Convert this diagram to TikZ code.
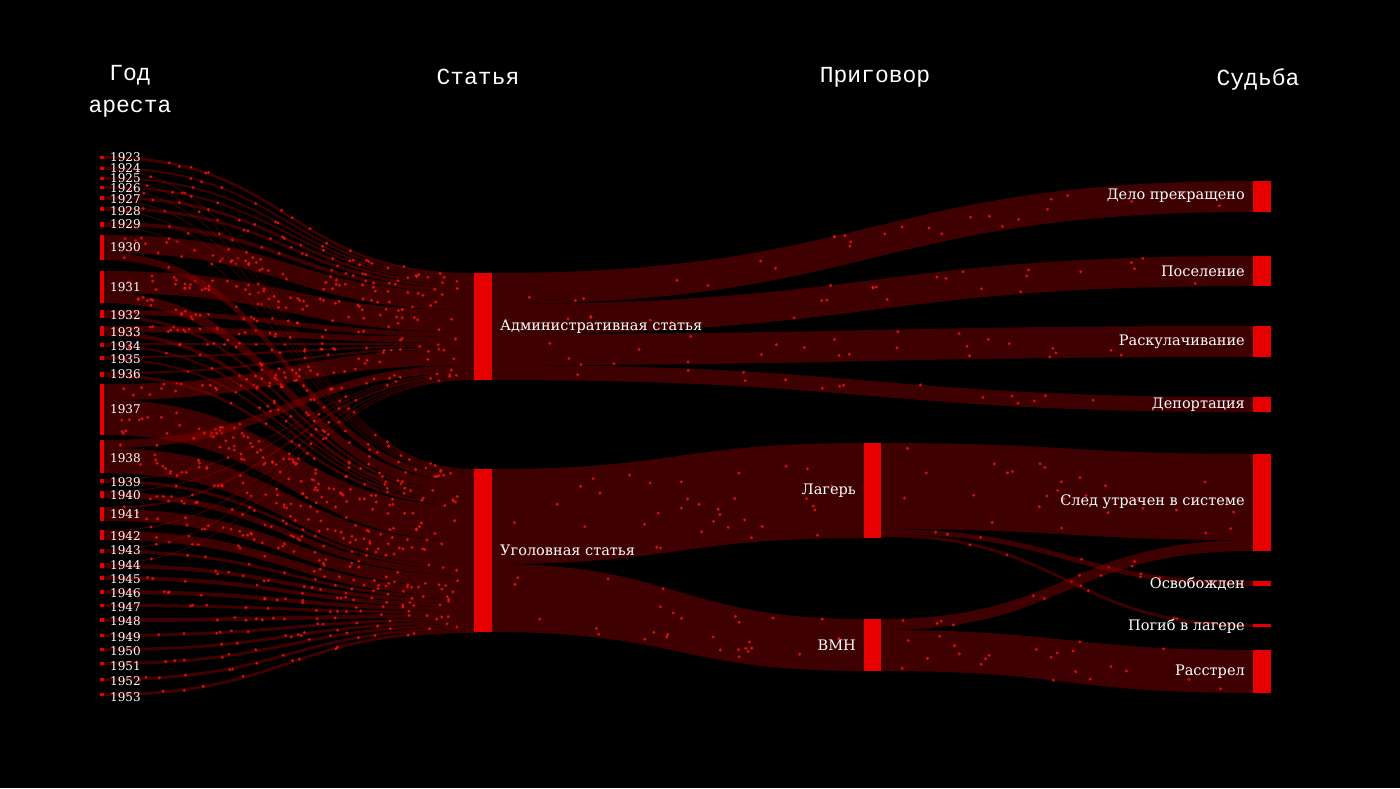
\documentclass[tikz,border=0pt]{standalone}
\usepackage{fontspec}
\setmainfont{DejaVu Serif}
\newfontfamily\hdr{Liberation Mono}
\begin{document}
\begin{tikzpicture}[x=1pt,y=-1pt,
  band/.style={fill={rgb,255:red,150;green,0;blue,0},fill opacity=0.42},
  dot/.style={circle,fill={rgb,255:red,235;green,20;blue,20},inner sep=0pt,minimum size=3.3pt,opacity=0.85},
  nd/.style={fill={rgb,255:red,230;green,0;blue,0},draw=none,inner sep=0pt,rectangle,anchor=north west},
  lab/.style={text=white,font=\fontsize{14.5}{14.5}\selectfont,inner sep=0pt},
  ylab/.style={text=white,font=\fontsize{12}{12}\selectfont,inner sep=0pt,anchor=west},
  hd/.style={text=white,font=\hdr\fontsize{23}{32}\selectfont,align=center}]
\fill[black] (0,0) rectangle (1400,788);
\useasboundingbox (0,0) rectangle (1400,788);
\pgfmathsetseed{7}
\newcommand\myband[6]{%
 \fill[band] ({#1},{#2}) .. controls ({(#1+#3)/2},{#2}) and ({(#1+#3)/2},{#4}) .. ({#3},{#4})
  -- ({#3},{#4+#6}) .. controls ({(#1+#3)/2},{#4+#6}) and ({(#1+#3)/2},{#2+#5}) .. ({#1},{#2+#5}) -- cycle;}
\newcommand\mydots[7]{%
 \pgfmathtruncatemacro\nn{#7}%
 \ifnum\nn>0
 \foreach \k in {1,...,\nn}{%
  \pgfmathsetmacro\ff{rnd}\pgfmathsetmacro\pp{0.03+0.94*rnd}%
  \path ({#1},{#2+\ff*#5}) .. controls ({(#1+#3)/2},{#2+\ff*#5}) and ({(#1+#3)/2},{#4+\ff*#6}) .. ({#3},{#4+\ff*#6}) node[dot,pos=\pp]{};}%
 \fi}
% headers
\node[hd] (h1) at (130,91) {Год\\ареста};
\node[hd] (h2) at (478,77) {Статья};
\node[hd] (h3) at (875,77) {Приговор};
\node[hd] (h4) at (1258,79) {Судьба};
% years
\xdef\accA{273}\xdef\accC{469}
\foreach \yr/\t/\h/\a/\c/\ly in {1923/156/3/3/0/157,1924/167/3/2/1/168,1925/177/3/2/1/178,1926/186/3/2/1/188,1927/196/4/3/1/199,1928/207/4/3/1/211,1929/222/5/4/1/224,1930/235/25/18/7/247,1931/271/32/22/10/287,1932/310/8/5/3/315,1933/326/10/6/4/332,1934/343/4/2/2/346,1935/356/4/2/2/359,1936/372/5/2/3/374,1937/384/51/16/35/409,1938/440/33/8/25/458,1939/479/4/1/3/482,1940/491/7/1/6/495,1941/507/14/2/12/514,1942/530/10/1/9/536,1943/549/4/1/3/550,1944/563/5/1/4/565,1945/576/4/0/4/579,1946/590/4/0/4/593,1947/604/3/0/3/607,1948/618/4/0/4/621,1949/634/3/0/3/637,1950/648/3/0/3/651,1951/662/3/0/3/666,1952/678/3/0/3/681,1953/693/3/0/3/697}{
  \pgfmathsetmacro\tc{\t+\a}
  \ifnum\a>0 \myband{104}{\t}{474}{\accA}{\a}{\a}\mydots{104}{\t}{474}{\accA}{\a}{\a}{4+2.5*\a}\fi
  \ifnum\c>0 \myband{104}{\tc}{474}{\accC}{\c}{\c}\mydots{104}{\tc}{474}{\accC}{\c}{\c}{4+2.5*\c}\fi
  \pgfmathsetmacro\na{\accA+\a}\xdef\accA{\na}
  \pgfmathsetmacro\nc{\accC+\c}\xdef\accC{\nc}
  \node[nd,minimum width=4pt,minimum height=\h pt] (y\yr) at (100,\t) {};
  \node[ylab] (l\yr) at (110,\ly) {\yr};
}
% article -> fates
\myband{492}{273}{1253}{181}{31}{31}\mydots{492}{273}{1253}{181}{31}{31}{26}
\myband{492}{304}{1253}{256}{30}{30}\mydots{492}{304}{1253}{256}{30}{30}{26}
\myband{492}{334}{1253}{326}{31}{31}\mydots{492}{334}{1253}{326}{31}{31}{26}
\myband{492}{365}{1253}{397}{15}{15}\mydots{492}{365}{1253}{397}{15}{15}{16}
% criminal -> sentence
\myband{492}{469}{864}{443}{95}{95}\mydots{492}{469}{864}{443}{95}{95}{34}
\myband{492}{564}{864}{619}{68}{52}\mydots{492}{564}{864}{619}{68}{52}{28}
% sentence -> fates
\myband{881}{443}{1253}{454}{86}{86}\mydots{881}{443}{1253}{454}{86}{86}{28}
\myband{881}{529}{1253}{581}{5}{5}\mydots{881}{529}{1253}{581}{5}{5}{10}
\myband{881}{534}{1253}{624}{3}{3}\mydots{881}{534}{1253}{624}{3}{3}{8}
\myband{881}{619}{1253}{540}{11}{11}\mydots{881}{619}{1253}{540}{11}{11}{10}
\myband{881}{630}{1253}{650}{41}{43}\mydots{881}{630}{1253}{650}{41}{43}{22}
% nodes
\node[nd,minimum width=18pt,minimum height=107pt] (adm) at (474,273) {};
\node[nd,minimum width=18pt,minimum height=163pt] (crim) at (474,469) {};
\node[nd,minimum width=17pt,minimum height=95pt] (lag) at (864,443) {};
\node[nd,minimum width=17pt,minimum height=52pt] (vmn) at (864,619) {};
\node[nd,minimum width=18pt,minimum height=31pt] (f1) at (1253,181) {};
\node[nd,minimum width=18pt,minimum height=30pt] (f2) at (1253,256) {};
\node[nd,minimum width=18pt,minimum height=31pt] (f3) at (1253,326) {};
\node[nd,minimum width=18pt,minimum height=15pt] (f4) at (1253,397) {};
\node[nd,minimum width=18pt,minimum height=97pt] (f5) at (1253,454) {};
\node[nd,minimum width=18pt,minimum height=5pt] (f6) at (1253,581) {};
\node[nd,minimum width=18pt,minimum height=3pt] (f7) at (1253,624) {};
\node[nd,minimum width=18pt,minimum height=43pt] (f8) at (1253,650) {};
% labels
\node[lab,anchor=west] (tadm) at (500,327) {Административная статья};
\node[lab,anchor=west] (tcrim) at (500,550) {Уголовная статья};
\node[lab,anchor=east] (tlag) at (856,491) {Лагерь};
\node[lab,anchor=east] (tvmn) at (856,645) {ВМН};
\node[lab,anchor=east] (t1) at (1245,196) {Дело прекращено};
\node[lab,anchor=east] (t2) at (1245,271) {Поселение};
\node[lab,anchor=east] (t3) at (1245,342) {Раскулачивание};
\node[lab,anchor=east] (t4) at (1245,405) {Депортация};
\node[lab,anchor=east] (t5) at (1245,502) {След утрачен в системе};
\node[lab,anchor=east] (t6) at (1245,584) {Освобожден};
\node[lab,anchor=east] (t7) at (1245,626) {Погиб в лагере};
\node[lab,anchor=east] (t8) at (1245,672) {Расстрел};
\end{tikzpicture}
\end{document}
